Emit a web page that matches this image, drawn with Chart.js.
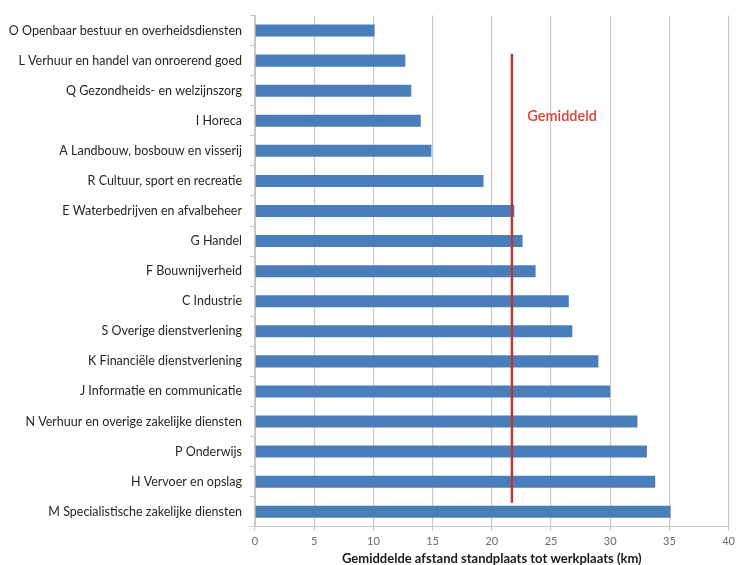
<!DOCTYPE html>
<html>
<head>
<meta charset="utf-8">
<script src="https://cdn.jsdelivr.net/npm/chart.js@4/dist/chart.umd.min.js"></script>
<style>
  html, body { margin: 0; padding: 0; background: #ffffff; }
  #wrap { width: 739px; height: 565px; position: relative; }
</style>
</head>
<body>
<div id="wrap"><canvas id="c"></canvas></div>
<script>
// Sectors (SBI sections), shortest to longest commute
const sectors = [
  'O Openbaar bestuur en overheidsdiensten',
  'L Verhuur en handel van onroerend goed',
  'Q Gezondheids- en welzijnszorg',
  'I Horeca',
  'A Landbouw, bosbouw en visserij',
  'R Cultuur, sport en recreatie',
  'E Waterbedrijven en afvalbeheer',
  'G Handel',
  'F Bouwnijverheid',
  'C Industrie',
  'S Overige dienstverlening',
  'K Financiële dienstverlening',
  'J Informatie en communicatie',
  'N Verhuur en overige zakelijke diensten',
  'P Onderwijs',
  'H Vervoer en opslag',
  'M Specialistische zakelijke diensten'
];

// Average distance from home base to workplace, km
const distanceKm = [10.1, 12.7, 13.2, 14.0, 14.9, 19.3, 21.9, 22.6, 23.7, 26.5, 26.8, 29.0, 30.0, 32.3, 33.1, 33.8, 35.1];

// Overall average
const averageKm = [21.7];
const averageLabel = ['Gemiddeld'];

const xTicks = [0, 5, 10, 15, 20, 25, 30, 35, 40];
const xTitle = 'Gemiddelde afstand standplaats tot werkplaats (km)';

const FONT = 'Lato, "Open Sans", sans-serif';

// Vertical average line with its caption, placed through the chart scales
const averageLine = {
  id: 'averageLine',
  afterDatasetsDraw(chart, args, opts) {
    const { ctx, scales: { x, y } } = chart;
    const px = x.getPixelForValue(averageKm[0]);
    const top = y.getPixelForValue(opts.fromIndex);
    const bottom = y.getPixelForValue(opts.toIndex);
    ctx.save();
    ctx.strokeStyle = '#b83a36';
    ctx.lineWidth = 2.5;
    ctx.beginPath();
    ctx.moveTo(px, top);
    ctx.lineTo(px, bottom);
    ctx.stroke();
    ctx.fillStyle = '#e0403a';
    ctx.font = '600 14.5px ' + FONT;
    ctx.textAlign = 'left';
    ctx.textBaseline = 'middle';
    ctx.fillText(averageLabel[0], x.getPixelForValue(averageKm[0] + 1.3), y.getPixelForValue(opts.labelIndex));
    ctx.restore();
  }
};

new Chart(document.getElementById('c'), {
  type: 'bar',
  data: {
    labels: sectors,
    datasets: [{
      data: distanceKm,
      backgroundColor: '#4a7ebb',
      borderWidth: 0,
      categoryPercentage: 1.0,
      barPercentage: 0.4
    }]
  },
  options: {
    indexAxis: 'y',
    responsive: true,
    maintainAspectRatio: false,
    animation: false,
    devicePixelRatio: 1,
    layout: { padding: { top: 15, right: 5, bottom: 0, left: 0 } },
    plugins: {
      legend: { display: false },
      tooltip: { enabled: false },
      averageLine: { fromIndex: 0.77, toIndex: 15.7, labelIndex: 2.86 }
    },
    scales: {
      x: {
        min: 0,
        max: 40,
        afterBuildTicks(scale) { scale.ticks = xTicks.map(v => ({ value: v })); },
        grid: { color: '#d2c6c8', lineWidth: 1.2, drawTicks: true, tickLength: 4 },
        border: { display: true, color: '#c8c8c8' },
        ticks: { color: '#6a6a6a', font: { family: FONT, size: 11 }, padding: 4 },
        title: {
          display: true,
          text: xTitle,
          color: '#1a1a1a',
          font: { family: FONT, size: 13, weight: 'bold', lineHeight: 1.0 },
          padding: { top: 0, bottom: 0 }
        }
      },
      y: {
        afterFit(scale) { scale.width = 255; },
        grid: { drawOnChartArea: false, drawTicks: true, tickLength: 5, color: '#c8c8c8' },
        border: { display: true, color: '#c8c8c8' },
        ticks: { color: '#262626', font: { family: FONT, size: 12.5 }, padding: 8, autoSkip: false }
      }
    }
  },
  plugins: [averageLine]
});
</script>
</body>
</html>
